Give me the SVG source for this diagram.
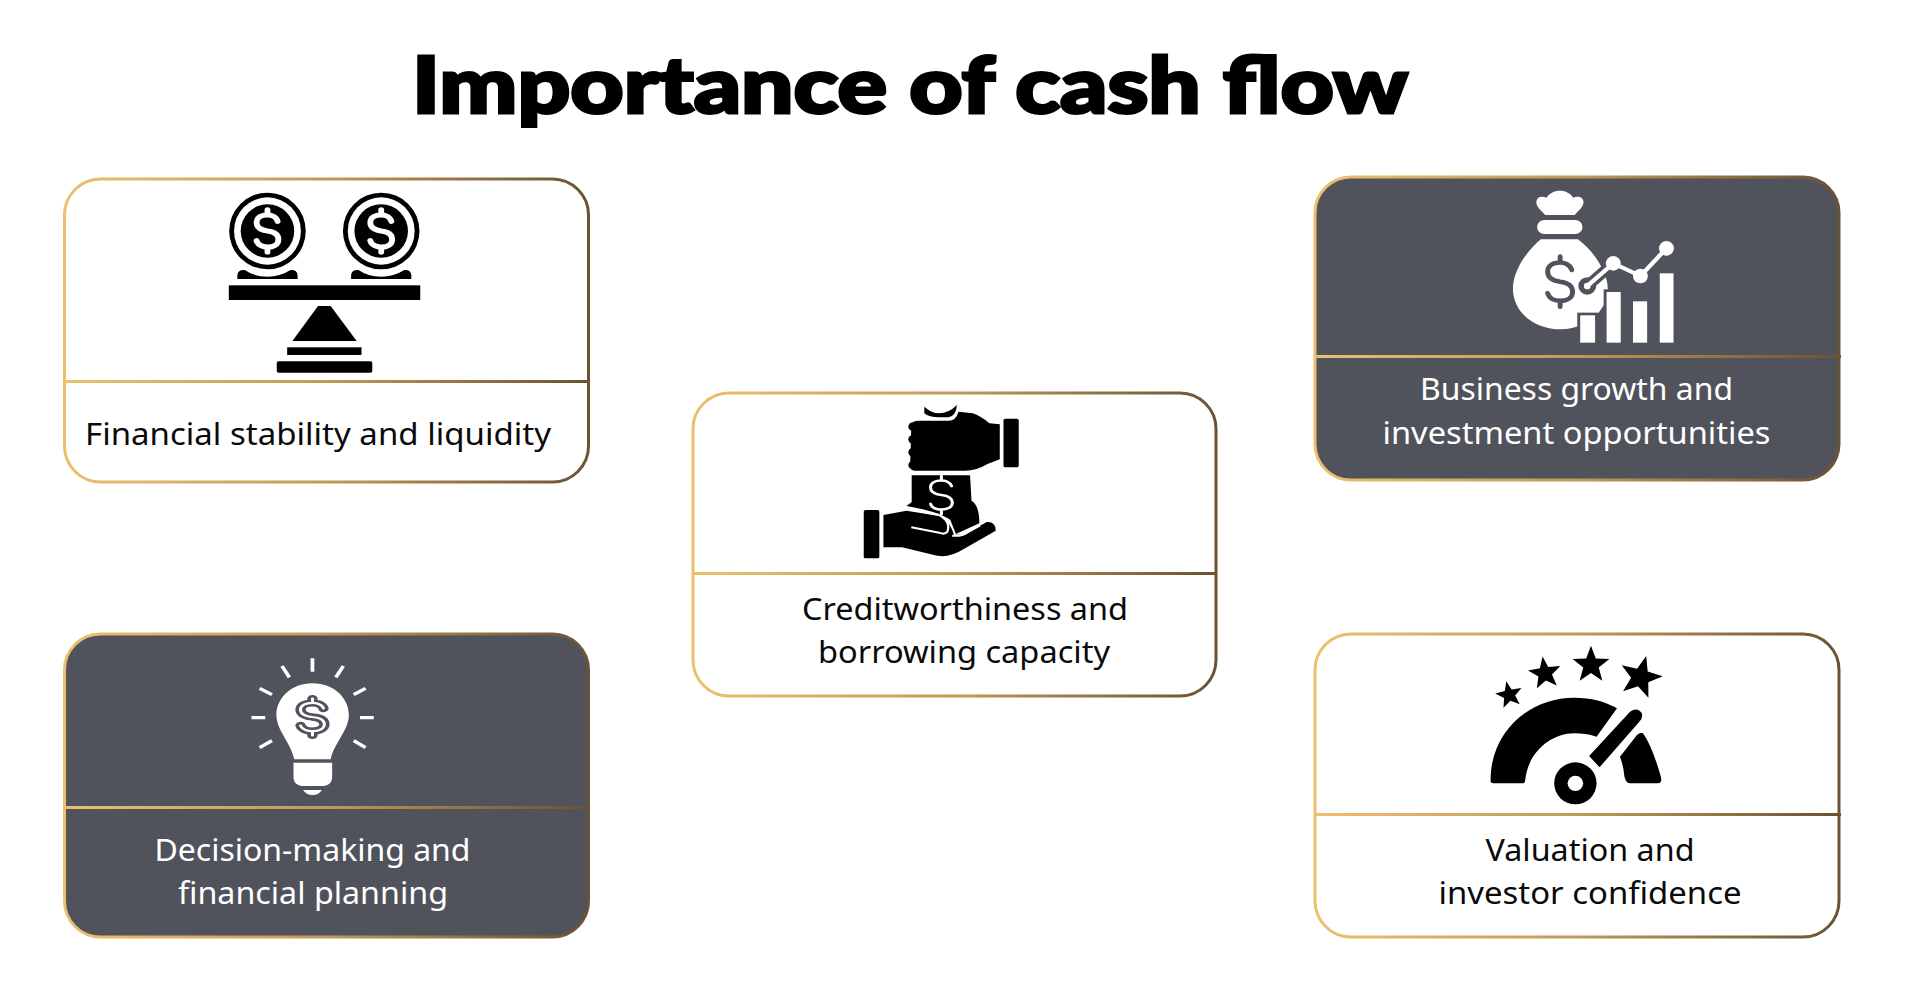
<svg xmlns="http://www.w3.org/2000/svg" xmlns:xlink="http://www.w3.org/1999/xlink" width="1920" height="987" viewBox="0 0 1920 987">
<style>
.card{stroke:url(#gold);stroke-width:3}
.light{fill:#fff}
.dark{fill:#50535c}
.lbl{font-family:"Noto Sans","Open Sans",sans-serif;font-size:31px;text-anchor:middle}
.tb{fill:#0a0a0a}
.tw{fill:#fff}
.ttl{font-family:"Lato","Liberation Sans",sans-serif;font-weight:900;font-size:78px;fill:#000;stroke:#000;stroke-width:3}
.dollar{fill:none;stroke-linecap:round;stroke-linejoin:round}
</style>
<defs>
<linearGradient id="gold" x1="0" y1="0" x2="1" y2="0">
<stop offset="0" stop-color="#ecc06e"/>
<stop offset="0.5" stop-color="#c19a58"/>
<stop offset="1" stop-color="#6b5232"/>
</linearGradient>
<path id="usd" d="M26,-28 C22,-42 8,-46 0,-46 C-16,-46 -28,-38 -28,-24 C-28,-8 -12,-2 0,0 C14,2 28,8 28,24 C28,38 16,46 0,46 C-10,46 -24,42 -28,28 M0,-46 V-60 M0,46 V60"/>
<polygon id="star" points="0,-1 .247,-.34 .951,-.309 .4,.13 .588,.809 0,.42 -.588,.809 -.4,.13 -.951,-.309 -.247,-.34"/>
<g id="coin">
<ellipse rx="103" ry="115" fill="#000"/>
<ellipse rx="90" ry="101" fill="#fff"/>
<ellipse rx="72" ry="80" fill="#000"/>
<use xlink:href="#usd" href="#usd" class="dollar" stroke="#fff" stroke-width="15" transform="scale(1.05,1.05)"/>
</g>
<path id="saddle" d="M-81,44 V32 Q-79,15 -61,17 Q-36,37 0,37 Q34,37 62,17 Q79,15 81,32 V44Z" fill="#000"/>
</defs>

<text id="title" class="ttl" x="412" y="113" textLength="996" lengthAdjust="spacingAndGlyphs">Importance of cash flow</text>

<g id="node-stability">
<rect class="card light" x="64.5" y="179" width="524" height="303" rx="36"/>
<rect x="63" y="380" width="527" height="3" fill="url(#gold)"/>
<g transform="translate(38.5,160) scale(.3717,.3333)">
<use xlink:href="#coin" href="#coin" x="616" y="213"/>
<use xlink:href="#coin" href="#coin" x="922" y="213"/>
<use xlink:href="#saddle" href="#saddle" x="616" y="313"/>
<use xlink:href="#saddle" href="#saddle" x="922" y="313"/>
<rect x="512" y="376" width="515" height="44" fill="#000"/>
<path d="M752,438 H786 L856,543 H683Z" fill="#000"/>
<rect x="669" y="562" width="200" height="23" fill="#000"/>
<rect x="641" y="604" width="257" height="34" rx="5" fill="#000"/>
</g>
<text class="lbl tb" x="318" y="445" textLength="466" lengthAdjust="spacingAndGlyphs">Financial stability and liquidity</text>
</g>

<g id="node-growth">
<rect class="card dark" x="1315" y="177" width="524" height="303" rx="36"/>
<rect x="1314" y="355" width="527" height="3" fill="url(#gold)"/>
<g transform="translate(1308.5,160) scale(.3717,.3333)">
<path fill="#fff" d="M637,165 C625,150 612,140 613,125 C615,110 630,108 640,113 C648,100 660,92 677,92 C692,92 705,100 712,113 C722,108 738,110 740,125 C740,140 728,150 716,165 Z"/>
<rect x="615" y="180" width="122" height="42" rx="20" fill="#fff"/>
<path fill="#fff" d="M625,238 H725 C770,275 805,340 805,385 C805,460 740,508 680,508 C610,508 550,460 550,385 C550,330 590,270 625,238Z"/>
<use xlink:href="#usd" href="#usd" class="dollar" stroke="#50535c" stroke-width="11" transform="translate(677,365) scale(1.2,1.25)"/>
<g fill="#50535c" stroke="#50535c" stroke-width="16">
<rect x="731" y="466" width="40" height="82"/>
<rect x="802" y="396" width="38" height="152"/>
<ellipse cx="820" cy="310" rx="20" ry="22"/>
</g>
<path d="M750,378 L820,310" fill="none" stroke="#50535c" stroke-width="32"/>
<ellipse cx="750" cy="378" rx="24" ry="26" fill="#50535c"/>
<g fill="#fff">
<rect x="731" y="466" width="40" height="82"/>
<rect x="802" y="396" width="38" height="152"/>
<rect x="873" y="424" width="38" height="124"/>
<rect x="945" y="340" width="37" height="208"/>
<ellipse cx="750" cy="378" rx="9" ry="10"/>
<ellipse cx="820" cy="310" rx="20" ry="22"/>
<ellipse cx="893" cy="348" rx="20" ry="22"/>
<ellipse cx="963" cy="265" rx="20" ry="22"/>
</g>
<path d="M750,378 L820,310 L893,348 L963,265" fill="none" stroke="#fff" stroke-width="12"/>
</g>
<text class="lbl tw" x="1576.5" y="400" textLength="313" lengthAdjust="spacingAndGlyphs">Business growth and</text>
<text class="lbl tw" x="1576.5" y="444" textLength="388" lengthAdjust="spacingAndGlyphs">investment opportunities</text>
</g>

<g id="node-credit">
<rect class="card light" x="693" y="393" width="523" height="303" rx="36"/>
<rect x="692" y="572" width="525" height="3" fill="url(#gold)"/>
<g transform="translate(679,380) scale(.3717,.3333)" fill="#000">
<rect x="873" y="116" width="41" height="146" rx="5"/>
<path d="M660,80 V100 Q672,112 700,112 H725 Q745,108 748,75 Q725,100 700,100 Q680,100 660,80Z"/>
<path d="M625,135 Q628,122 645,122 H725 Q745,122 752,95 L790,100 Q815,110 835,130 L863,133 V238 L830,252 Q800,272 770,272 H635 Q620,272 622,255Z"/>
<circle cx="630" cy="140" r="13"/><circle cx="630" cy="178" r="13"/><circle cx="630" cy="217" r="13"/><circle cx="630" cy="255" r="13"/>
<path d="M626,286 H783 L787,362 Q808,375 808,430 L745,462 L730,420 Q700,395 612,378 L626,366Z"/>
<use xlink:href="#usd" href="#usd" class="dollar" stroke="#fff" stroke-width="8" transform="translate(706,345) scale(1.05,.95)"/>
<rect x="497" y="390" width="42" height="145" rx="5"/>
<path d="M550,405 L612,392 L700,408 Q730,425 740,465 L770,462 L828,426 Q852,424 852,452 L765,508 Q720,540 675,522 L600,502 H550Z"/>
<path d="M612,385 L700,405 Q732,425 722,455 Q715,465 700,458 L625,442 M735,467 Q760,470 775,458 L810,436" fill="none" stroke="#fff" stroke-width="6"/>
</g>
<text class="lbl tb" x="965" y="620" textLength="326" lengthAdjust="spacingAndGlyphs">Creditworthiness and</text>
<text class="lbl tb" x="964" y="663" textLength="292" lengthAdjust="spacingAndGlyphs">borrowing capacity</text>
</g>

<g id="node-decision">
<rect class="card dark" x="64.5" y="634" width="524" height="303" rx="36"/>
<rect x="63" y="806" width="527" height="3" fill="url(#gold)"/>
<g transform="translate(38.5,620) scale(.3717,.3333)">
<path fill="none" stroke="#fff" stroke-width="10" d="M737,115V155 M655,138L675,172 M820,138L800,172 M595,205L628,224 M880,205L848,224 M573,293H610 M902,293H865 M595,383L628,362 M880,383L848,362"/>
<path fill="#fff" d="M737,190 C680,190 640,235 640,285 C640,330 680,370 688,418 H786 C795,370 835,330 835,285 C835,235 795,190 737,190Z"/>
<path fill="#fff" d="M686,428 H790 V470 Q790,498 760,498 H716 Q686,498 686,470Z"/>
<path fill="#fff" d="M712,510 H762 Q755,525 737,525 Q720,525 712,510Z"/>
<use xlink:href="#usd" href="#usd" class="dollar" stroke="#50535c" stroke-width="24" transform="translate(737,291) scale(1.15,.92)"/>
<use xlink:href="#usd" href="#usd" class="dollar" stroke="#fff" stroke-width="7" transform="translate(737,291) scale(1.15,.92)"/>
</g>
<text class="lbl tw" x="312.5" y="861" textLength="316" lengthAdjust="spacingAndGlyphs">Decision-making and</text>
<text class="lbl tw" x="313" y="904" textLength="270" lengthAdjust="spacingAndGlyphs">financial planning</text>
</g>

<g id="node-valuation">
<rect class="card light" x="1315" y="634" width="524" height="303" rx="36"/>
<rect x="1314" y="813" width="527" height="3" fill="url(#gold)"/>
<g transform="translate(1308.5,620) scale(.3717,.3333)" fill="#000">
<use xlink:href="#star" href="#star" transform="translate(540,225) scale(38,42) rotate(-12)"/>
<use xlink:href="#star" href="#star" transform="translate(636,160) scale(46,51) rotate(-8)"/>
<use xlink:href="#star" href="#star" transform="translate(760,135) scale(52,58)"/>
<use xlink:href="#star" href="#star" transform="translate(893,172) scale(60,66) rotate(15)"/>
<path d="M490,478 C490,340 590,233 715,233 C760,233 800,245 830,265 L775,350 C755,343 735,340 715,340 C650,340 590,400 583,480 Q583,490 575,490 H498 Q488,490 490,478Z"/>
<path d="M900,340 Q925,380 948,470 Q952,490 940,490 H865 Q855,490 850,470 Q848,440 838,410 L880,350 Q890,335 900,340Z"/>
<path d="M755,408 L865,275 Q885,260 897,280 Q900,295 890,305 L783,442Z"/>
<ellipse cx="718" cy="490" rx="57" ry="63"/>
<ellipse cx="718" cy="490" rx="21" ry="23" fill="#fff"/>
</g>
<text class="lbl tb" x="1590" y="861" textLength="209" lengthAdjust="spacingAndGlyphs">Valuation and</text>
<text class="lbl tb" x="1590" y="904" textLength="303" lengthAdjust="spacingAndGlyphs">investor confidence</text>
</g>
</svg>
